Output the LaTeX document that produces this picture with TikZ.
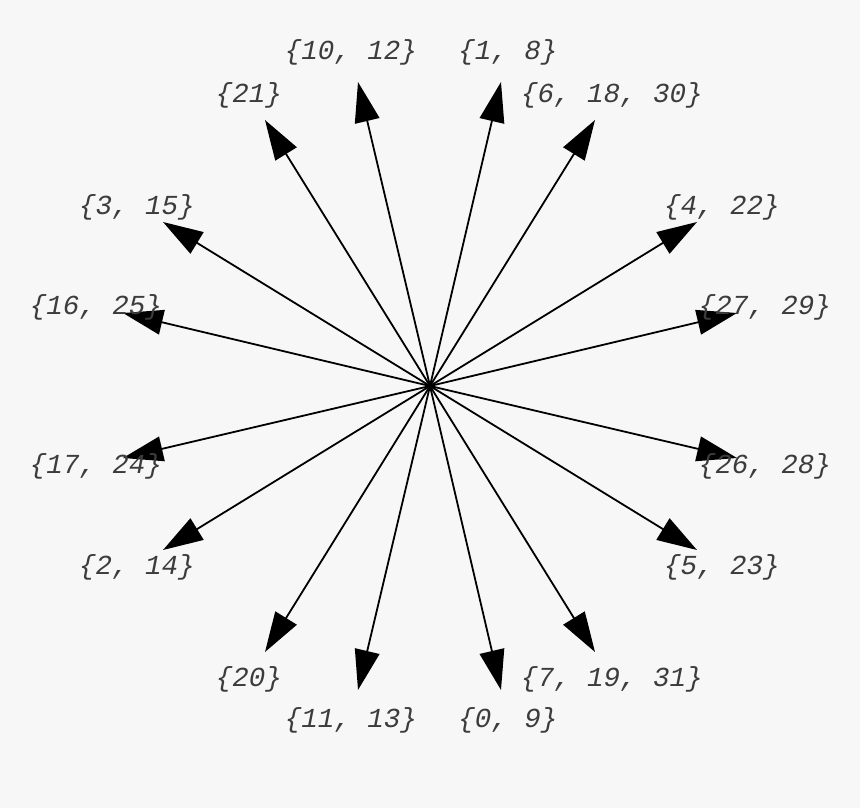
\documentclass[tikz,border=0pt]{standalone}
\usepackage{xcolor}
\usepackage{fontspec}
\usepackage{tikz}
\usetikzlibrary{arrows.meta}
\newfontfamily\lblfont{Liberation Mono}
\definecolor{bg}{HTML}{F7F7F7}
\definecolor{lbl}{HTML}{3C3C3C}

\begin{document}
\begin{tikzpicture}[x=1pt, y=-1pt,
    ray/.style={line width=1.8pt, -{Triangle[length=40pt, width=25pt]}},
    tag/.style={font=\fontsize{27.5}{30}\lblfont\itshape, text=lbl, inner sep=0pt}]
    % background and page size
    \fill[bg] (0,0) rectangle (860,808);
    \useasboundingbox (0,0) rectangle (860,808);
    \coordinate (hub) at (430,386);
    % tip x / tip y / label x / label y / label
    \foreach \n/\tx/\ty/\lx/\ly/\txt in {
        a/501/82/508/52/{1, 8},
        b/358/82/351/52/{10, 12},
        c/595/120/612/95/{6, 18, 30},
        d/265/120/249/95/{21},
        e/697/222/722/207/{4, 22},
        f/163/222/137/207/{3, 15},
        g/737/313/765/307/{27, 29},
        h/123/313/96/307/{16, 25},
        i/737/458/765/466/{26, 28},
        j/123/458/96/466/{17, 24},
        k/697/550/722/567/{5, 23},
        l/163/550/137/567/{2, 14},
        m/595/652/612/679/{7, 19, 31},
        n/265/652/249/679/{20},
        o/501/690/508/720/{0, 9},
        p/358/690/351/720/{11, 13}} {
      \coordinate (tip-\n) at (\tx,\ty);
      \draw[ray] (hub) -- (tip-\n);
      \node[tag] (lbl-\n) at (\lx,\ly) {\{\txt\}};
    }
\end{tikzpicture}
\end{document}
